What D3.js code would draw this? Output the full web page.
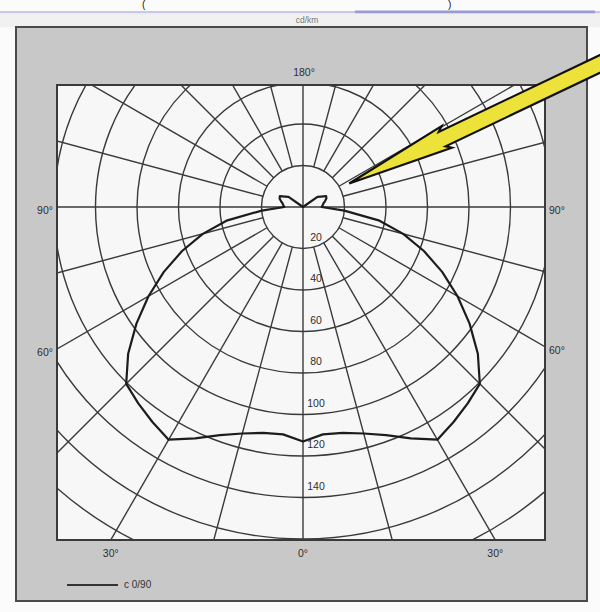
<!DOCTYPE html>
<html>
<head>
<meta charset="utf-8">
<script src="https://cdn.jsdelivr.net/npm/d3@7/dist/d3.min.js"></script>
<style>
  html, body { margin: 0; padding: 0; background: #ffffff; }
  svg { display: block; }
  text { font-family: "Liberation Sans Narrow", "Liberation Sans", Arial, sans-serif; }
</style>
</head>
<body>
<svg id="chart" width="600" height="612"></svg>
<script>
// Luminous intensity distribution (cd/klm), plane C 0/90, symmetric about 0°.
const gammaAngles = [0, 5, 10, 15, 20, 25, 30, 35, 40, 45, 50, 55, 60, 65, 70, 75, 80, 85,
                     90, 95, 100, 105, 110, 115, 120, 125, 130, 135, 140, 145, 150, 155, 160, 165, 170, 175, 180];
const intensity   = [113, 110, 110.5, 113, 117, 123, 129.5, 126.5, 123.5, 120.5, 110, 98, 86, 74, 62, 50, 37, 20,
                     9, 9.5, 10, 11, 12, 12.3, 10, 8.5, 0, 0, 0, 0, 0, 0, 0, 0, 0, 0, 0];

const ringValues   = [20, 40, 60, 80, 100, 120, 140, 160, 180, 200];
const ringLabels   = [20, 40, 60, 80, 100, 120, 140];
const spokeAngles  = [-165, -150, -135, -120, -105, -75, -60, -45, -30, -15, 15, 30, 45, 60, 75, 105, 120, 135, 150, 165];
const axisAngles   = [0, 90, 180, -90];
const angleTicks   = [180, 90, -90, 60, -60, 30, -30, 0];
const unitLabel    = "cd/km";
const legendLabel  = "c 0/90";
const arrowTarget  = { gamma: 117, value: 25 };

const svg = d3.select("#chart");
const W = 600, H = 612;

// frame geometry
const outer = { x0: 16, y0: 27, x1: 587, y1: 601 };
const plot  = { x0: 57, y0: 85, x1: 545, y1: 540 };
const cx = 303, cy = 207;

const r = d3.scaleLinear().domain([0, 20]).range([0, 41.5]);
const rad = g => g * Math.PI / 180;
const px = (g, v) => cx + r(v) * Math.sin(rad(g));
const py = (g, v) => cy + r(v) * Math.cos(rad(g));

// page background and the header rule
svg.append("rect").attr("width", W).attr("height", H).attr("fill", "#fbfbfb");
svg.append("rect").attr("x", 0).attr("y", 11).attr("width", 600).attr("height", 2.5).attr("fill", "#c9c8ea");
svg.append("rect").attr("x", 355).attr("y", 10.5).attr("width", 240).attr("height", 3).attr("fill", "#9d9bd6");
svg.append("rect").attr("x", 0).attr("y", 13.5).attr("width", 600).attr("height", 13.5).attr("fill", "#f1f1f1");

// heading brackets at the top edge
svg.append("text").attr("x", 142).attr("y", 8).attr("font-size", 10).attr("fill", "#111").text("(");
svg.append("text").attr("x", 448).attr("y", 8).attr("font-size", 10).attr("fill", "#111").text(")");

svg.append("text").attr("x", cx + 4).attr("y", 23).attr("text-anchor", "middle")
  .attr("font-size", 8.5).attr("fill", "#777").text(unitLabel);

// grey mount and plot area
svg.append("rect")
  .attr("x", outer.x0).attr("y", outer.y0)
  .attr("width", outer.x1 - outer.x0).attr("height", outer.y1 - outer.y0)
  .attr("fill", "#c8c8c8").attr("stroke", "#4a4a4a").attr("stroke-width", 2);
svg.append("rect")
  .attr("x", plot.x0).attr("y", plot.y0)
  .attr("width", plot.x1 - plot.x0).attr("height", plot.y1 - plot.y0)
  .attr("fill", "#f7f7f7");

svg.append("clipPath").attr("id", "plotClip")
  .append("rect")
  .attr("x", plot.x0).attr("y", plot.y0)
  .attr("width", plot.x1 - plot.x0).attr("height", plot.y1 - plot.y0);

const grid = svg.append("g").attr("clip-path", "url(#plotClip)")
  .attr("stroke", "#3a3a3a").attr("stroke-width", 1.4).attr("fill", "none");

// concentric intensity rings
grid.selectAll("circle.ring").data(ringValues).join("circle")
  .attr("class", "ring")
  .attr("cx", cx).attr("cy", cy).attr("r", d => r(d));

// spokes start at the first ring
grid.selectAll("line.spoke").data(spokeAngles).join("line")
  .attr("class", "spoke")
  .attr("x1", d => px(d, 20)).attr("y1", d => py(d, 20))
  .attr("x2", d => px(d, 320)).attr("y2", d => py(d, 320));

// main axes pass through the centre
grid.selectAll("line.axis").data(axisAngles).join("line")
  .attr("class", "axis")
  .attr("x1", cx).attr("y1", cy)
  .attr("x2", d => px(d, 320)).attr("y2", d => py(d, 320));

svg.append("rect")
  .attr("x", plot.x0).attr("y", plot.y0)
  .attr("width", plot.x1 - plot.x0).attr("height", plot.y1 - plot.y0)
  .attr("fill", "none").attr("stroke", "#3a3a3a").attr("stroke-width", 2);

// ring value labels along the 0° axis
svg.append("g").selectAll("text").data(ringLabels).join("text")
  .attr("x", cx + 13).attr("y", d => cy + r(d) - 8)
  .attr("text-anchor", "middle").attr("font-size", 10.5).attr("fill", "#2e2e2e")
  .text(d => d);

// angle labels where each spoke leaves the plot area
function edgePoint(g) {
  const dx = Math.sin(rad(g)), dy = Math.cos(rad(g));
  let t = Infinity, side = null;
  if (dx > 1e-9) { const tt = (plot.x1 - cx) / dx; if (tt < t) { t = tt; side = "right"; } }
  if (dx < -1e-9) { const tt = (plot.x0 - cx) / dx; if (tt < t) { t = tt; side = "left"; } }
  if (dy > 1e-9) { const tt = (plot.y1 - cy) / dy; if (tt < t) { t = tt; side = "bottom"; } }
  if (dy < -1e-9) { const tt = (plot.y0 - cy) / dy; if (tt < t) { t = tt; side = "top"; } }
  return { x: cx + t * dx, y: cy + t * dy, side };
}
svg.append("g").selectAll("text").data(angleTicks).join("text")
  .each(function (g) {
    const e = edgePoint(g);
    const s = d3.select(this).attr("font-size", 10.5).attr("fill", "#2e2e2e");
    if (e.side === "top") s.attr("x", e.x + 1).attr("y", e.y - 9).attr("text-anchor", "middle");
    else if (e.side === "bottom") s.attr("x", e.x).attr("y", e.y + 17).attr("text-anchor", "middle");
    else if (e.side === "left") s.attr("x", e.x - 4).attr("y", e.y + 7).attr("text-anchor", "end");
    else s.attr("x", e.x + 4).attr("y", e.y + 7).attr("text-anchor", "start");
  })
  .text(g => Math.abs(g) + "°");

// intensity curve, mirrored to cover -180°..180°
const curvePts = [];
for (let i = gammaAngles.length - 1; i > 0; i--) curvePts.push({ g: -gammaAngles[i], v: intensity[i] });
for (let i = 0; i < gammaAngles.length; i++) curvePts.push({ g: gammaAngles[i], v: intensity[i] });

const radial = d3.lineRadial()
  .angle(d => Math.PI - rad(d.g))
  .radius(d => r(d.v))
  .curve(d3.curveLinearClosed);

svg.append("path")
  .attr("transform", `translate(${cx},${cy})`)
  .attr("d", radial(curvePts))
  .attr("fill", "none").attr("stroke", "#1c1c1c").attr("stroke-width", 2.2)
  .attr("stroke-linejoin", "round");

// legend
svg.append("line").attr("x1", 67).attr("x2", 118).attr("y1", 585).attr("y2", 585)
  .attr("stroke", "#333").attr("stroke-width", 2);
svg.append("text").attr("x", 124).attr("y", 588).attr("font-size", 10).attr("fill", "#333").text(legendLabel);

// pointer arrow
const tipX = px(arrowTarget.gamma, arrowTarget.value);
const tipY = py(arrowTarget.gamma, arrowTarget.value);
const arrowShape = [[0, 0], [108, -12], [103, -8], [340, -8], [340, 8], [103, 8], [108, 12]];
svg.append("path")
  .attr("transform", `translate(${tipX},${tipY}) rotate(-25.5)`)
  .attr("d", d3.line()(arrowShape) + "Z")
  .attr("fill", "#ede23a").attr("stroke", "#111").attr("stroke-width", 2.2)
  .attr("stroke-linejoin", "miter");
</script>
</body>
</html>
